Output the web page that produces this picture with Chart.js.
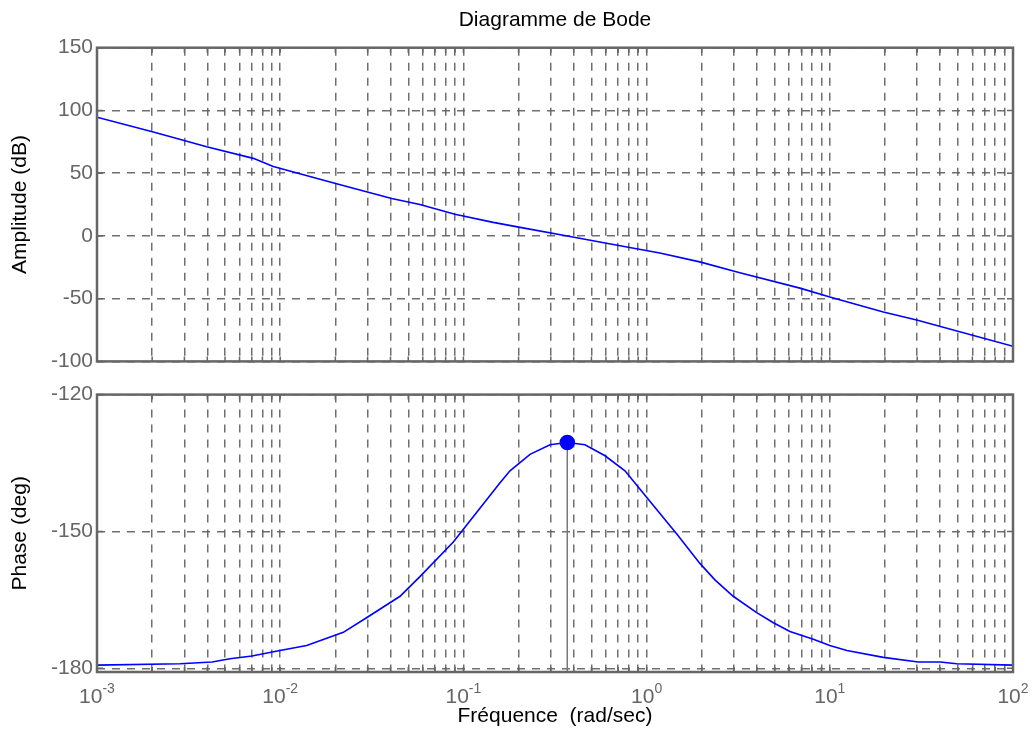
<!DOCTYPE html>
<html>
<head>
<meta charset="utf-8">
<script src="https://cdn.jsdelivr.net/npm/chart.js@4.4.0/dist/chart.umd.min.js"></script>
<style>
html, body { margin: 0; padding: 0; background: #fff; }
#wrap { position: relative; width: 1036px; height: 737px; }
canvas { position: absolute; left: 0; }
</style>
</head>
<body>
<div id="wrap">
  <canvas id="amp" width="1036" height="378" style="top:0px"></canvas>
  <canvas id="phase" width="1036" height="359" style="top:378px"></canvas>
</div>
<script>
// decades shown on the frequency axis (10^e)
var decades = [-3, -2, -1, 0, 1, 2];

// amplitude curve (rad/sec, dB)
var ampFreq = [0.001, 0.00203, 0.00397, 0.00713, 0.00917, 0.0128, 0.0203, 0.0406, 0.0579, 0.0899,
               0.1455, 0.204, 0.382, 0.658, 1.18, 1.95, 3.23, 6.87, 10.0, 19.6, 29.8, 100];
var ampDb = [94.6, 82.8, 71.0, 61.8, 55.3, 49.5, 41.6, 29.8, 25.1, 17.3,
             10.8, 6.8, -0.5, -6.8, -13.6, -20.7, -29.3, -41.6, -48.7, -60.7, -67.0, -88.0];

// phase curve (rad/sec, deg)
var phaseFreq = [0.001, 0.00284, 0.00425, 0.00532, 0.00701, 0.00997, 0.01395, 0.0221, 0.0296, 0.0451,
                 0.0579, 0.0881, 0.1585, 0.1796, 0.231, 0.297, 0.369, 0.461, 0.593, 0.762,
                 1.0, 1.458, 1.954, 2.36, 2.97, 3.99, 4.92, 6.06, 8.13, 10.0,
                 12.4, 19.6, 30.4, 40, 49.3, 100];
var phaseDeg = [-179.3, -179.0, -178.6, -177.9, -177.3, -176.1, -175.0, -172.1, -168.9, -164.2,
                -159.9, -152.3, -139.3, -136.7, -133.1, -131.0, -130.5, -131.0, -133.4, -136.7,
                -142.5, -150.5, -157.0, -160.6, -164.2, -167.8, -170.0, -171.9, -173.6, -175.0,
                -176.1, -177.6, -178.6, -178.6, -179.0, -179.3];

// phase margin marker
var peakFreq = 0.369;
var peakPhase = -130.5;

var ampTicks = [-100, -50, 0, 50, 100, 150];
var phaseTicks = [-180, -150, -120];

Chart.defaults.font.family = '"Liberation Sans", Arial, sans-serif';
Chart.defaults.font.size = 21;

var gridGray = 'rgba(95,95,95,0.9)';

function logTicks(scale) {
  var t = [];
  decades.forEach(function (e, i) {
    if (i == decades.length - 1) { t.push({ value: Math.pow(10, e) }); return; }
    for (var m = 1; m < 10; m++) t.push({ value: m * Math.pow(10, e) });
  });
  scale.ticks = t;
}

var framePlugin = {
  id: 'frame',
  afterDraw: function (chart) {
    var a = chart.chartArea, ctx = chart.ctx;
    var xs = chart.scales.x, ys = chart.scales.y;
    ctx.save();
    ctx.strokeStyle = '#666';
    ctx.setLineDash([]);
    ctx.lineWidth = 1.5;
    ctx.beginPath();
    xs.ticks.forEach(function (t) {
      var px = xs.getPixelForValue(t.value);
      ctx.moveTo(px, a.bottom); ctx.lineTo(px, a.bottom - 5);
      ctx.moveTo(px, a.top); ctx.lineTo(px, a.top + 5);
    });
    ys.ticks.forEach(function (t) {
      var py = ys.getPixelForValue(t.value);
      ctx.moveTo(a.left, py); ctx.lineTo(a.left + 6, py);
      ctx.moveTo(a.right, py); ctx.lineTo(a.right - 6, py);
    });
    ctx.stroke();
    ctx.lineWidth = 2.5;
    ctx.strokeRect(a.left, a.top, a.right - a.left, a.bottom - a.top);
    ctx.restore();
  }
};

// "10" with a raised exponent under each decade
var powerLabels = {
  id: 'powerLabels',
  afterDraw: function (chart) {
    var ctx = chart.ctx, xs = chart.scales.x, y = chart.chartArea.bottom + 31;
    ctx.save();
    ctx.fillStyle = '#666';
    ctx.textBaseline = 'alphabetic';
    ctx.textAlign = 'left';
    decades.forEach(function (e) {
      var px = xs.getPixelForValue(Math.pow(10, e));
      ctx.font = '21px "Liberation Sans", Arial, sans-serif';
      var w1 = ctx.measureText('10').width;
      ctx.font = '14px "Liberation Sans", Arial, sans-serif';
      var w2 = ctx.measureText(String(e)).width;
      var x0 = px - (w1 + w2) / 2;
      ctx.font = '21px "Liberation Sans", Arial, sans-serif';
      ctx.fillText('10', x0, y);
      ctx.font = '14px "Liberation Sans", Arial, sans-serif';
      ctx.fillText(String(e), x0 + w1, y - 10);
    });
    ctx.restore();
  }
};

function xAxis(height, title) {
  return {
    type: 'logarithmic',
    min: 0.001,
    max: 100,
    afterBuildTicks: logTicks,
    afterFit: function (s) { s.height = height; },
    ticks: { display: false },
    grid: { color: gridGray, lineWidth: 1.5, drawTicks: false },
    border: { display: false, dash: [8, 7] },
    title: title
  };
}

function yAxis(min, max, tickList, label) {
  return {
    min: min,
    max: max,
    afterBuildTicks: function (s) { s.ticks = tickList.map(function (v) { return { value: v }; }); },
    afterFit: function (s) { s.width = 97; },
    ticks: { color: '#666', padding: 4 },
    grid: { color: gridGray, lineWidth: 1.5, drawTicks: false },
    border: { display: false, dash: [8, 7] },
    title: { display: true, text: label, color: '#000', padding: { top: 8, bottom: 8 } }
  };
}

new Chart(document.getElementById('amp'), {
  type: 'line',
  data: {
    datasets: [{
      data: ampFreq.map(function (f, i) { return { x: f, y: ampDb[i] }; }),
      borderColor: '#0000ff',
      borderWidth: 1.6,
      pointRadius: 0,
      tension: 0
    }]
  },
  options: {
    responsive: false,
    animation: false,
    devicePixelRatio: 1,
    layout: { padding: { left: 0, right: 23, top: 0, bottom: 0 } },
    plugins: {
      legend: { display: false },
      tooltip: { enabled: false },
      title: {
        display: true,
        fullSize: false,
        text: 'Diagramme de Bode',
        color: '#000',
        font: { size: 21, weight: 'normal' },
        padding: { top: 8, bottom: 14.5 }
      }
    },
    scales: {
      x: xAxis(12, { display: false }),
      y: yAxis(-100, 150, ampTicks, 'Amplitude (dB)')
    }
  },
  plugins: [framePlugin]
});

new Chart(document.getElementById('phase'), {
  type: 'line',
  data: {
    datasets: [{
      data: phaseFreq.map(function (f, i) { return { x: f, y: phaseDeg[i] }; }),
      borderColor: '#0000ff',
      borderWidth: 1.6,
      pointRadius: 0,
      tension: 0
    }, {
      data: [{ x: peakFreq, y: peakPhase }, { x: peakFreq, y: -180.8 }],
      borderColor: '#777',
      borderWidth: 1.5,
      pointRadius: [7, 0],
      pointBackgroundColor: '#0000ff',
      pointBorderColor: '#0000ff',
      tension: 0
    }]
  },
  options: {
    responsive: false,
    animation: false,
    devicePixelRatio: 1,
    layout: { padding: { left: 0, right: 23, top: 13, bottom: 0 } },
    plugins: {
      legend: { display: false },
      tooltip: { enabled: false }
    },
    scales: {
      x: xAxis(65, { display: true, text: 'Fréquence  (rad/sec)', color: '#000', padding: { top: 0, bottom: 8 } }),
      y: yAxis(-180.8, -120, phaseTicks, 'Phase (deg)')
    }
  },
  plugins: [framePlugin, powerLabels]
});
</script>
</body>
</html>
